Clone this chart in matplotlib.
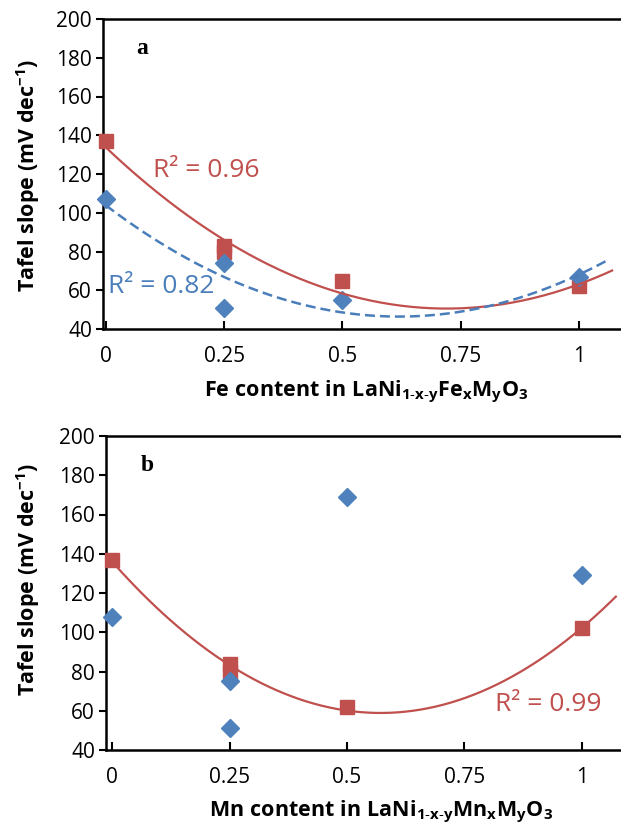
import numpy as np
import matplotlib
matplotlib.use("Agg")
import matplotlib.pyplot as plt

plt.rcParams['font.family'] = ['Open Sans', 'DejaVu Sans']
plt.rcParams['mathtext.fontset'] = 'custom'
plt.rcParams['mathtext.rm'] = 'Open Sans'
plt.rcParams['mathtext.bf'] = 'Open Sans:bold'
plt.rcParams['mathtext.it'] = 'Open Sans:italic'

# ---------------- data ----------------
# Panel a: Fe content
fe_red_x = [0, 0.25, 0.25, 0.5, 1]
fe_red_y = [137, 83, 80, 65, 62]
fe_blue_x = [0, 0.25, 0.25, 0.5, 1]
fe_blue_y = [107, 74, 51, 55, 67]
# Panel b: Mn content
mn_red_x = [0, 0.25, 0.25, 0.5, 1]
mn_red_y = [137, 84, 80, 62, 102]
mn_blue_x = [0, 0.25, 0.25, 0.5, 1]
mn_blue_y = [108, 75, 51, 169, 129]

xticks = [0, 0.25, 0.5, 0.75, 1]
xticklabels = ["0", "0.25", "0.5", "0.75", "1"]
yticks = [40, 60, 80, 100, 120, 140, 160, 180, 200]

RED = "#C0504D"
BLUE = "#4F81BD"
LRED = "#C0504D"
LBLUE = "#4A7EBB"

fig = plt.figure(figsize=(6.21, 8.24), dpi=100)

def style(ax, xlim):
    ax.set_xlim(*xlim)
    ax.set_ylim(40, 200)
    ax.set_xticks(xticks)
    ax.set_xticklabels(xticklabels)
    ax.set_yticks(yticks)
    for s in ['left', 'bottom', 'top']:
        ax.spines[s].set_linewidth(1.8)
        ax.spines[s].set_color('black')
    ax.spines['right'].set_visible(False)
    ax.tick_params(axis='y', direction='out', length=5, width=1.5, pad=3, labelsize=15)
    ax.tick_params(axis='x', direction='in', length=6, width=1.5, pad=12, labelsize=15)

def trend(ax, xs, ys, xend, color, ls, lw):
    c = np.polyfit(xs, ys, 2)
    xx = np.linspace(0, xend, 200)
    ax.plot(xx, np.polyval(c, xx), color=color, ls=ls, lw=lw, zorder=4, clip_on=False)

# ---------------- panel a ----------------
axa = fig.add_axes([103/621, 1-329/824, 1-103/621, 310/824])
style(axa, (-0.0063, 1.0888))
axa.plot(fe_red_x, fe_red_y, 's', color=RED, ms=10.5, zorder=3, clip_on=False)
axa.plot(fe_blue_x, fe_blue_y, 'D', color=BLUE, ms=9, zorder=3, clip_on=False)
trend(axa, fe_red_x, fe_red_y, 1.07, LRED, '-', 1.6)
trend(axa, fe_blue_x, fe_blue_y, 1.06, LBLUE, (0, (4, 2)), 1.8)
axa.text(0.075, 0.905, "a", transform=axa.transAxes, fontsize=17, fontweight='bold',
         family='Liberation Serif', ha='center', va='center')
axa.text(0.1, 122, "R² = 0.96", color=LRED, fontsize=19, ha='left', va='center')
axa.text(0.005, 62, "R² = 0.82", color=LBLUE, fontsize=19, ha='left', va='center')
axa.set_ylabel("Tafel slope (mV dec$^{\\mathbf{-1}}$)", fontsize=15.5, fontweight='bold', va='center')
axa.yaxis.set_label_coords(-0.145, 0.494)
axa.set_xlabel(r"$\mathbf{Fe\ content\ in\ LaNi_{1\text{-}x\text{-}y}Fe_{x}M_{y}O_{3}}$", fontsize=15.5,
               va='baseline')
axa.xaxis.set_label_coords(0.508, -0.219)

# ---------------- panel b ----------------
axb = fig.add_axes([106/621, 1-750/824, 1-106/621, 314/824])
style(axb, (-0.0128, 1.083))
axb.plot(mn_red_x, mn_red_y, 's', color=RED, ms=10.5, zorder=3, clip_on=False)
axb.plot(mn_blue_x, mn_blue_y, 'D', color=BLUE, ms=9, zorder=3, clip_on=False)
trend(axb, mn_red_x, mn_red_y, 1.072, LRED, '-', 1.6)
axb.text(0.08, 0.905, "b", transform=axb.transAxes, fontsize=17, fontweight='bold',
         family='Liberation Serif', ha='center', va='center')
axb.text(0.815, 63, "R² = 0.99", color=LRED, fontsize=19, ha='left', va='center')
axb.set_ylabel("Tafel slope (mV dec$^{\\mathbf{-1}}$)", fontsize=15.5, fontweight='bold', va='center')
axb.yaxis.set_label_coords(-0.152, 0.541)
axb.set_xlabel(r"$\mathbf{Mn\ content\ in\ LaNi_{1\text{-}x\text{-}y}Mn_{x}M_{y}O_{3}}$", fontsize=15.5,
               va='baseline')
axb.xaxis.set_label_coords(0.534, -0.213)

fig.savefig("out.png", dpi=100)
